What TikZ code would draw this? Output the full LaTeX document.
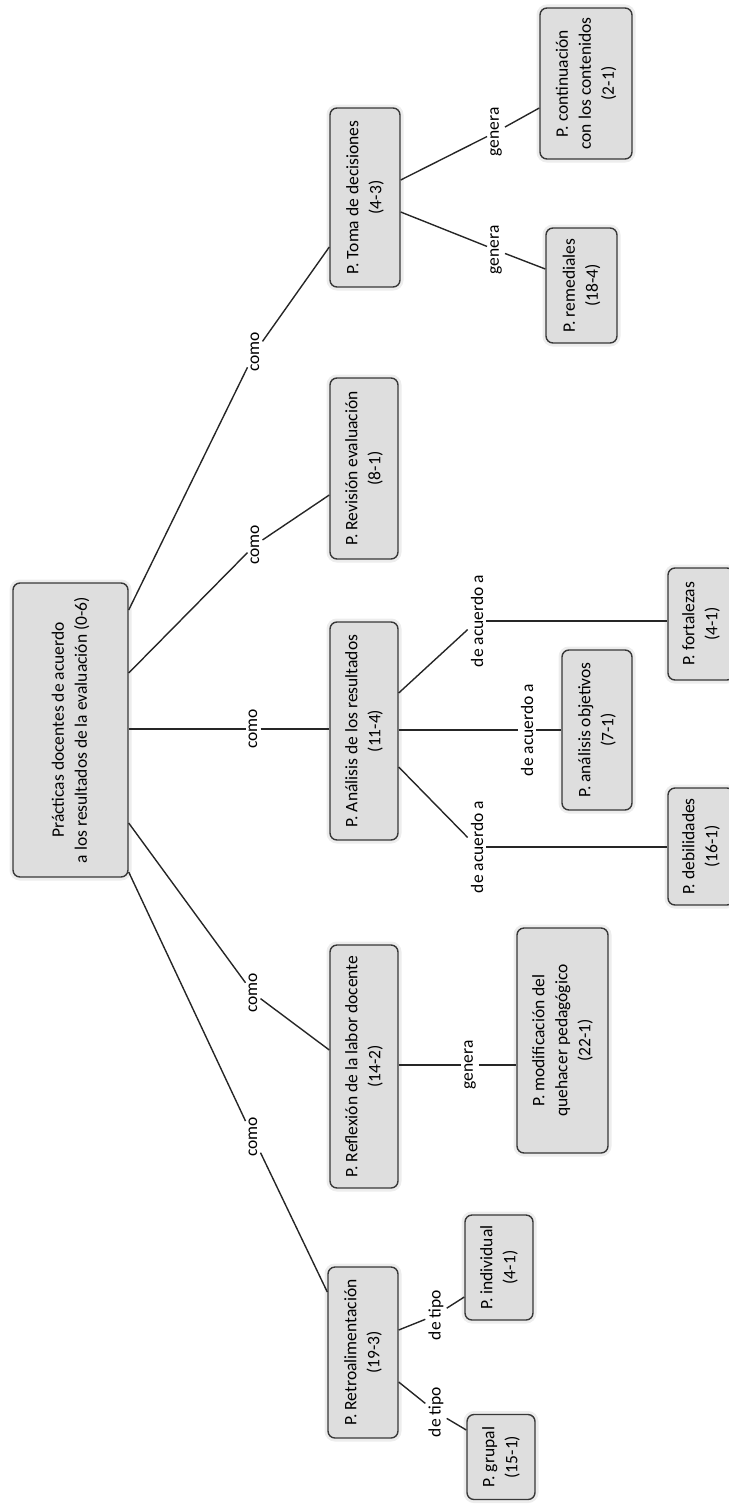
\documentclass[tikz,border=0pt]{standalone}
\usepackage{fontspec}
\setmainfont{Carlito}
\begin{document}
\begin{tikzpicture}[x=1pt,y=-1pt,
  box/.style={draw=black!78, line width=1.4pt, fill=black!13, rounded corners=7pt,
    rotate=90, align=center, inner sep=2pt,
    font=\fontsize{17.5}{23}\selectfont,
    preaction={draw=black!7, line width=7pt}},
  lab/.style={rotate=90, inner sep=3pt, font=\fontsize{17.5}{21}\selectfont},
  conn/.style={draw=black!85, line width=1.4pt}]
\useasboundingbox (0,0) rectangle (728,1504);
% boxes
\node[box, minimum width=294, minimum height=115] (root) at (70.5,730)
  {Prácticas docentes de acuerdo\\a los resultados de la evaluación (0-6)};
\node[box, minimum width=179, minimum height=70] (toma) at (365,197.5)
  {P. Toma de decisiones\\(4-3)};
\node[box, minimum width=181, minimum height=68] (revis) at (364,468.5)
  {P. Revisión evaluación\\(8-1)};
\node[box, minimum width=218, minimum height=68] (anal) at (364,731)
  {P. Análisis de los resultados\\(11-4)};
\node[box, minimum width=243, minimum height=68] (refl) at (364,1066.5)
  {P. Reflexión de la labor docente\\(14-2)};
\node[box, minimum width=171, minimum height=70] (retro) at (363,1352.5)
  {P. Retroalimentación\\(19-3)};
\node[box, minimum width=151, minimum height=92] (cont) at (586,83.5)
  {P. continuación\\con los contenidos\\(2-1)};
\node[box, minimum width=115, minimum height=71] (remed) at (581.5,285.5)
  {P. remediales\\(18-4)};
\node[box, minimum width=160, minimum height=70] (objet) at (597,730)
  {P. análisis objetivos\\(7-1)};
\node[box, minimum width=112, minimum height=66] (fort) at (701,624)
  {P. fortalezas\\(4-1)};
\node[box, minimum width=117, minimum height=66] (deb) at (701,846.5)
  {P. debilidades\\(16-1)};
\node[box, minimum width=225, minimum height=91] (modif) at (562.5,1040.5)
  {P. modificación del\\quehacer pedagógico\\(22-1)};
\node[box, minimum width=105, minimum height=68] (indiv) at (499,1267.5)
  {P. individual\\(4-1)};
\node[box, minimum width=85, minimum height=68] (grupal) at (501,1457)
  {P. grupal\\(15-1)};
% labels
\node[lab] (como1) at (255,352) {como};
\node[lab] (como2) at (255,545) {como};
\node[lab] (como3) at (253,729) {como};
\node[lab] (como4) at (253,993) {como};
\node[lab] (como5) at (253,1137) {como};
\node[lab] (gen1) at (496,132) {genera};
\node[lab] (gen2) at (496,250) {genera};
\node[lab] (gen3) at (470,1065) {genera};
\node[lab] (acu1) at (477,621) {de acuerdo a};
\node[lab] (acu2) at (527,730) {de acuerdo a};
\node[lab] (acu3) at (477,847) {de acuerdo a};
\node[lab] (tipo1) at (436,1315) {de tipo};
\node[lab] (tipo2) at (436,1412) {de tipo};
% connectors
\draw[conn] (root.south |- 0,610) -- (como1);
\draw[conn] (como1) -- (toma.north |- 0,247);
\draw[conn] (root.south |- 0,673) -- (como2);
\draw[conn] (como2) -- (revis.north |- 0,495);
\draw[conn] (root.south |- 0,729) -- (como3);
\draw[conn] (como3) -- (anal.north |- como3);
\draw[conn] (root.south |- 0,823) -- (como4);
\draw[conn] (como4) -- (refl.north |- 0,1050);
\draw[conn] (root.south |- 0,872) -- (como5);
\draw[conn] (como5) -- (retro.north |- 0,1292);
\draw[conn] (toma.south |- 0,180) -- (gen1);
\draw[conn] (gen1) -- (cont.north |- 0,108);
\draw[conn] (toma.south |- 0,212) -- (gen2);
\draw[conn] (gen2) -- (remed.north |- 0,269);
\draw[conn] (anal.south |- 0,693) -- (acu1);
\draw[conn] (acu1) -- (fort.north |- acu1);
\draw[conn] (anal.south |- acu2) -- (acu2);
\draw[conn] (acu2) -- (objet.north |- acu2);
\draw[conn] (anal.south |- 0,767) -- (acu3);
\draw[conn] (acu3) -- (deb.north |- acu3);
\draw[conn] (refl.south |- gen3) -- (gen3);
\draw[conn] (gen3) -- (modif.north |- gen3);
\draw[conn] (retro.south |- 0,1330) -- (tipo1);
\draw[conn] (tipo1) -- (indiv.north |- 0,1297);
\draw[conn] (retro.south |- 0,1382) -- (tipo2);
\draw[conn] (tipo2) -- (grupal.north |- 0,1430);
\end{tikzpicture}
\end{document}
